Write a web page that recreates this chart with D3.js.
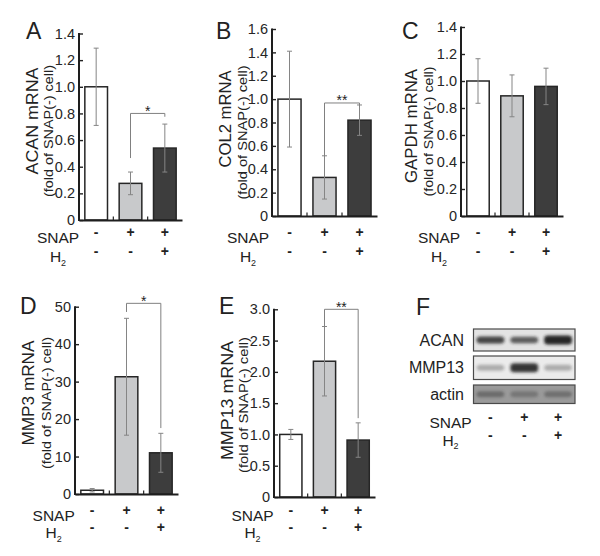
<!DOCTYPE html>
<html><head><meta charset="utf-8">
<script src="https://cdn.jsdelivr.net/npm/d3@7"></script>
<style>
body{margin:0;background:#fff}
svg{display:block}
text{font-family:"Liberation Sans",Arial,Helvetica,sans-serif;fill:#222}
</style>
</head><body>
<svg id="c" width="600" height="556"></svg>
<script>
// ---------------- DATA ----------------
const conditions = ["SNAP-/H2-", "SNAP+/H2-", "SNAP+/H2+"];
const snapSigns = ["-", "+", "+"];
const h2Signs   = ["-", "-", "+"];

const acanMean  = [1.00, 0.275, 0.54];
const acanErr   = [0.29, 0.085, 0.18];
const col2Mean  = [1.00, 0.33, 0.82];
const col2Err   = [0.41, 0.185, 0.13];
const gapdhMean = [1.00, 0.89, 0.96];
const gapdhErr  = [0.165, 0.155, 0.135];
const mmp3Mean  = [1.0, 31.3, 11.0];
const mmp3Err   = [0.45, 15.6, 5.2];
const mmp13Mean = [1.00, 2.17, 0.91];
const mmp13Err  = [0.08, 0.555, 0.275];

const ticks14 = [0, 0.2, 0.4, 0.6, 0.8, 1.0, 1.2, 1.4];
const ticks16 = [0, 0.2, 0.4, 0.6, 0.8, 1.0, 1.2, 1.4, 1.6];
const ticks50 = [0, 10, 20, 30, 40, 50];
const ticks30 = [0, 0.5, 1.0, 1.5, 2.0, 2.5, 3.0];

// significance: [fromIndex, toIndex, bracketValue, leftLegEnd, rightLegEnd, label]
const acanSig  = [1, 2, 0.80, 0.465, 0.775, "*"];
const col2Sig  = [1, 2, 0.967, 0.51, 0.935, "**"];
const mmp3Sig  = [1, 2, 50.9, 48.6, 17.6, "*"];
const mmp13Sig = [1, 2, 3.0, 2.72, 1.26, "**"];

// western blot band intensities (0..1)
const blotProteins = ["ACAN", "MMP13", "actin"];
const acanBand  = [0.80, 0.68, 0.95];
const mmp13Band = [0.30, 0.88, 0.30];
const actinBand = [0.42, 0.32, 0.38];

// ---------------- DRAWING ----------------
const svg = d3.select("#c");
const fillColors = ["#ffffff", "#c8c9cb", "#3d3d3d"];
const fmtDec = d => d === 0 ? "0" : d3.format(".1f")(d);
const fmtInt = d => d3.format("d")(d);

const defs = svg.append("defs");
defs.append("filter").attr("id","blur").attr("x","-30%").attr("y","-80%").attr("width","160%").attr("height","260%")
  .append("feGaussianBlur").attr("stdDeviation", 1.4);

function signRows(g, x, labelCx, snapBase, h2Base, signOffset) {
  g.append("text").attr("x", labelCx).attr("y", snapBase).attr("text-anchor","middle")
    .attr("font-size", 15.5).text("SNAP");
  const h = g.append("text").attr("x", labelCx).attr("y", h2Base).attr("text-anchor","middle")
    .attr("font-size", 15.5);
  h.append("tspan").text("H");
  h.append("tspan").attr("font-size", 9).attr("dy", 3.5).text("2");
  g.selectAll(null).data(conditions).join("text")
    .attr("x", d => x(d)).attr("y", snapBase - signOffset + 1).attr("text-anchor","middle")
    .attr("font-size", 14).attr("font-weight","bold").text((d,i) => snapSigns[i]);
  g.selectAll(null).data(conditions).join("text")
    .attr("x", d => x(d)).attr("y", h2Base - signOffset + 1).attr("text-anchor","middle")
    .attr("font-size", 14).attr("font-weight","bold").text((d,i) => h2Signs[i]);
}

function barPanel(p) {
  const g = svg.append("g");
  const y = d3.scaleLinear().domain([0, p.max]).range([p.y0, p.yTop]);
  const x = d3.scaleBand().domain(conditions).range([p.ax, p.xEnd]).paddingInner(0.34).paddingOuter(0.17);
  const bw = x.bandwidth();
  const cx = d => x(d) + bw / 2;

  // bars
  g.selectAll(null).data(conditions).join("rect")
    .attr("x", d => x(d)).attr("width", bw)
    .attr("y", (d,i) => y(p.mean[i])).attr("height", (d,i) => p.y0 - y(p.mean[i]))
    .attr("fill", (d,i) => fillColors[i]).attr("stroke", "#262626").attr("stroke-width", 1.5);

  // error bars
  const eb = g.selectAll(null).data(conditions).join("g").attr("stroke", "#858585").attr("stroke-width", 1);
  eb.append("line").attr("x1", cx).attr("x2", cx)
    .attr("y1", (d,i) => y(p.mean[i] - p.err[i])).attr("y2", (d,i) => y(p.mean[i] + p.err[i]));
  eb.append("line").attr("x1", d => cx(d) - 2.5).attr("x2", d => cx(d) + 2.5)
    .attr("y1", (d,i) => y(p.mean[i] + p.err[i])).attr("y2", (d,i) => y(p.mean[i] + p.err[i]));
  eb.append("line").attr("x1", d => cx(d) - 2.5).attr("x2", d => cx(d) + 2.5)
    .attr("y1", (d,i) => y(p.mean[i] - p.err[i])).attr("y2", (d,i) => y(p.mean[i] - p.err[i]));

  // y axis
  const ya = g.append("g").attr("transform", `translate(${p.ax},0)`)
    .call(d3.axisLeft(y).tickValues(p.ticks).tickFormat(p.fmt).tickSizeInner(-4).tickSizeOuter(0).tickPadding(4));
  ya.attr("font-size", null).attr("font-family", null);
  ya.select(".domain").remove();
  ya.selectAll(".tick line").attr("stroke", "#222").attr("stroke-width", 1.4);
  ya.selectAll(".tick text").style("font-size", "14.5px").style("fill", "#262626")
    .style("font-family", '"Liberation Sans",Arial,sans-serif');
  g.append("line").attr("x1", p.ax).attr("x2", p.ax).attr("y1", y(p.max) - 0.5).attr("y2", p.y0 + 1)
    .attr("stroke", "#1e1e1e").attr("stroke-width", 2);
  // x axis
  const xa = g.append("g").attr("transform", `translate(0,${p.y0})`)
    .call(d3.axisBottom(x).tickValues([]).tickSizeOuter(0));
  xa.select(".domain").attr("stroke", "#1e1e1e").attr("stroke-width", 2);
  const gapTicks = conditions.slice(1).map(d => x(d) - (x.step() - bw) / 2);
  g.selectAll(null).data(gapTicks).join("line")
    .attr("x1", d => d).attr("x2", d => d).attr("y1", p.y0).attr("y2", p.y0 - 3.5)
    .attr("stroke", "#222").attr("stroke-width", 1.2);

  // significance bracket
  if (p.sig) {
    const [a, b, v, l, r, lab] = p.sig;
    const xa1 = cx(conditions[a]), xb1 = cx(conditions[b]);
    g.append("path")
      .attr("d", `M${xa1},${y(l)}V${y(v)}H${xb1}V${y(r)}`)
      .attr("fill", "none").attr("stroke", "#808080").attr("stroke-width", 1);
    g.append("text").attr("x", (xa1 + xb1) / 2).attr("y", y(v) + 2.5).attr("text-anchor", "middle")
      .attr("font-size", 14).attr("fill", "#444").text(lab);
  }

  // y labels
  g.append("text").attr("transform", `translate(${p.lab1x},${p.lab1y}) rotate(-90)`)
    .attr("text-anchor", "middle").attr("dy", "0.35em").attr("font-size", 17)
    .attr("textLength", p.lab1len).attr("lengthAdjust", "spacingAndGlyphs").text(p.title);
  g.append("text").attr("transform", `translate(${p.lab2x},${p.lab2y}) rotate(-90)`)
    .attr("text-anchor", "middle").attr("dy", "0.35em").attr("font-size", 12.5)
    .attr("textLength", p.lab2len).attr("lengthAdjust", "spacingAndGlyphs")
    .text("(fold of SNAP(-) cell)");

  // panel letter
  g.append("text").attr("x", p.lx).attr("y", p.ly).attr("font-size", 23).attr("fill", "#1a1a1a").text(p.letter);

  signRows(g, cx, p.rowCx, p.snapBase, p.h2Base, 7.5);
}

barPanel({letter:"A", lx:26, ly:39, title:"ACAN mRNA", mean:acanMean, err:acanErr, max:1.4, ticks:ticks14, fmt:fmtDec,
  ax:79, xEnd:182, y0:220, yTop:33.5, sig:acanSig,
  lab1x:32.5, lab1y:121, lab1len:107, lab2x:49, lab2y:131, lab2len:132, rowCx:58, snapBase:243, h2Base:262});
barPanel({letter:"B", lx:216, ly:39, title:"COL2 mRNA", mean:col2Mean, err:col2Err, max:1.6, ticks:ticks16, fmt:fmtDec,
  ax:272, xEnd:377, y0:216, yTop:29, sig:col2Sig,
  lab1x:225, lab1y:119, lab1len:97, lab2x:242.5, lab2y:132.5, lab2len:134, rowCx:248, snapBase:243, h2Base:262});
barPanel({letter:"C", lx:402, ly:38.5, title:"GAPDH mRNA", mean:gapdhMean, err:gapdhErr, max:1.4, ticks:ticks14, fmt:fmtDec,
  ax:461, xEnd:563, y0:216, yTop:27, sig:null,
  lab1x:411.5, lab1y:126, lab1len:114, lab2x:429, lab2y:131.5, lab2len:130, rowCx:439, snapBase:243, h2Base:262});
barPanel({letter:"D", lx:20, ly:314, title:"MMP3 mRNA", mean:mmp3Mean, err:mmp3Err, max:50, ticks:ticks50, fmt:fmtInt,
  ax:75, xEnd:178, y0:494, yTop:306.7, sig:mmp3Sig,
  lab1x:28.5, lab1y:393, lab1len:105, lab2x:46.5, lab2y:403, lab2len:132, rowCx:53.7, snapBase:521, h2Base:538});
barPanel({letter:"E", lx:219, ly:314, title:"MMP13 mRNA", mean:mmp13Mean, err:mmp13Err, max:3.0, ticks:ticks30, fmt:fmtDec,
  ax:274, xEnd:375, y0:497, yTop:309.3, sig:mmp13Sig,
  lab1x:227.5, lab1y:400.5, lab1len:119, lab2x:244, lab2y:405, lab2len:136, rowCx:252.5, snapBase:521, h2Base:538});

// ---------------- PANEL F (western blot) ----------------
(function(){
  const g = svg.append("g");
  const x = d3.scaleBand().domain(conditions).range([473.5, 575]).paddingInner(0.18).paddingOuter(0.09);
  const bw = x.bandwidth();
  const cx = d => x(d) + bw / 2;
  const rows = [
    {name: blotProteins[0], vals: acanBand,  y: 329, h: 22, bg: "#e3e3e3", band: "#1c1c1c", bh: [7, 6.5, 9]},
    {name: blotProteins[1], vals: mmp13Band, y: 356, h: 23.5, bg: "#ebebeb", band: "#1c1c1c", bh: [6, 9, 6]},
    {name: blotProteins[2], vals: actinBand, y: 385, h: 18.5, bg: "#9a9a9a", band: "#2a2a2a", bh: [6, 6, 6]}
  ];
  rows.forEach(r => {
    g.append("rect").attr("x", 473.5).attr("y", r.y).attr("width", 101.5).attr("height", r.h)
      .attr("fill", r.bg);
    const mid = r.y + r.h / 2;
    g.selectAll(null).data(conditions).join("rect")
      .attr("x", d => x(d)).attr("width", bw)
      .attr("y", (d,i) => mid - r.bh[i] / 2).attr("height", (d,i) => r.bh[i])
      .attr("rx", 4).attr("ry", 3)
      .attr("fill", r.band).attr("opacity", (d,i) => r.vals[i]).attr("filter", "url(#blur)");
    g.append("rect").attr("x", 473.5).attr("y", r.y).attr("width", 101.5).attr("height", r.h)
      .attr("fill", "none").attr("stroke", "#4a4a4a").attr("stroke-width", 1.2);
    g.append("text").attr("x", 464).attr("y", mid).attr("dy", "0.35em").attr("text-anchor", "end")
      .attr("font-size", 16).text(r.name);
  });
  g.append("text").attr("x", 416).attr("y", 315).attr("font-size", 23).attr("fill", "#1a1a1a").text("F");
  signRows(g, cx, 450.5, 428.3, 445.5, 7);
})();
</script>
</body></html>
